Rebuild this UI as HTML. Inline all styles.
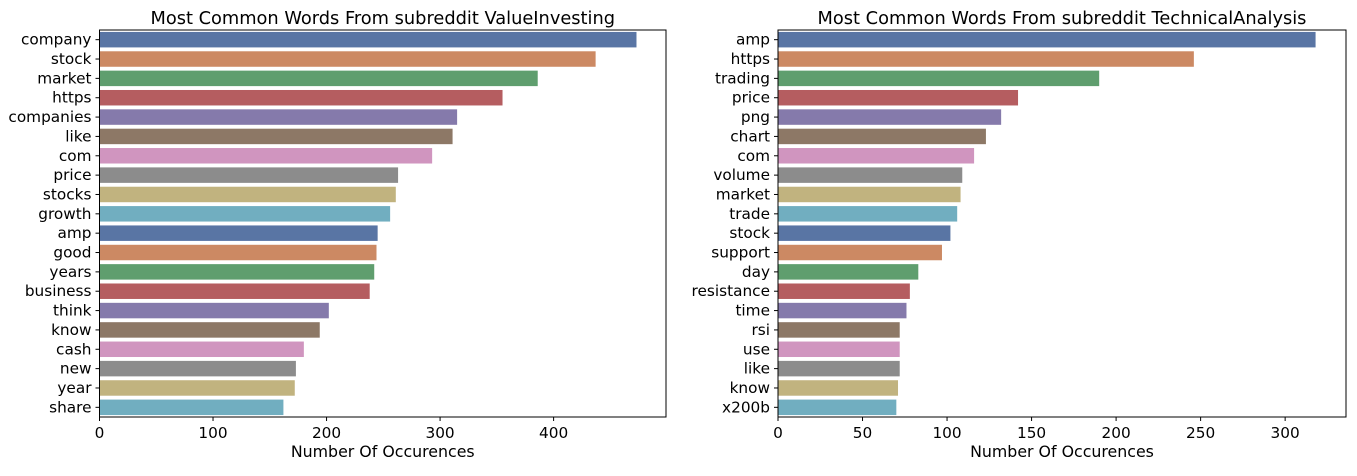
<!DOCTYPE html>
<html><head><meta charset="utf-8"><style>
body{margin:0;background:#fff;width:1357px;height:472px;overflow:hidden;font-family:"DejaVu Sans","Liberation Sans",sans-serif}
</style></head><body>
<svg id="c" width="1357" height="472" font-family="DejaVu Sans, Liberation Sans, sans-serif"></svg>
<script>
const leftWords=["company","stock","market","https","companies","like","com","price","stocks","growth","amp","good","years","business","think","know","cash","new","year","share"];
const leftValues=[473,437,386,355,315,311,293,263,261,256,245,244,242,238,202,194,180,173,172,162];
const leftTicks=[0,100,200,300,400];
const rightWords=["amp","https","trading","price","png","chart","com","volume","market","trade","stock","support","day","resistance","time","rsi","use","like","know","x200b"];
const rightValues=[318,246,190,142,132,123,116,109,108,106,102,97,83,78,76,72,72,72,71,70];
const rightTicks=[0,50,100,150,200,250,300];
const colors=["#5975a4","#cc8963","#5f9e6e","#b55d60","#857aab","#8d7866","#d095bf","#8c8c8c","#c1b37f","#71aec0"];
const svg=document.getElementById('c');
const NS="http://www.w3.org/2000/svg";
function mk(t,a,p){const e=document.createElementNS(NS,t);for(const k in a)e.setAttribute(k,a[k]);(p||svg).appendChild(e);return e;}
function chart(id,x0,x1,max,words,vals,ticks,title){
  const y0=30,y1=417,g=mk('g',{});
  
  
  const xs=v=>x0+(v/max)*(x1-x0);
  const step=(y1-y0)/words.length;
  words.forEach((w,i)=>{
    const cy=y0+step*(i+0.5);
    const r=mk('rect',{x:x0,y:cy-step*0.4,width:xs(vals[i])-x0,height:step*0.8,fill:colors[i%10]},g);
    
    
    mk('line',{x1:x0-4,x2:x0,y1:cy,y2:cy,stroke:'#000','stroke-width':1},g);
    const t=mk('text',{x:x0-8,y:cy+5,'text-anchor':'end','font-size':15.3,fill:'#000'},g);
    t.textContent=w;
    
    
  });
  ticks.forEach(v=>{
    const x=xs(v);
    mk('line',{x1:x,x2:x,y1:y1,y2:y1+4,stroke:'#000'},g);
    const t=mk('text',{x:x,y:y1+21,'text-anchor':'middle','font-size':15.3},g);
    t.textContent=v;
    
    
  });
  mk('rect',{x:x0,y:y0,width:x1-x0,height:y1-y0,fill:'none',stroke:'#000','stroke-width':1},g);
  const tt=mk('text',{x:(x0+x1)/2,y:24,'text-anchor':'middle','font-size':17.8},g);
  tt.textContent=title;
  
  
  const xl=mk('text',{x:(x0+x1)/2,y:457,'text-anchor':'middle','font-size':15.8},g);
  xl.textContent='Number Of Occurences';
  
  
}
chart('value-investing-chart',99.5,666,499,leftWords,leftValues,leftTicks,'Most Common Words From subreddit ValueInvesting');
chart('technical-analysis-chart',778,1346,336,rightWords,rightValues,rightTicks,'Most Common Words From subreddit TechnicalAnalysis');
</script>
</body></html>
